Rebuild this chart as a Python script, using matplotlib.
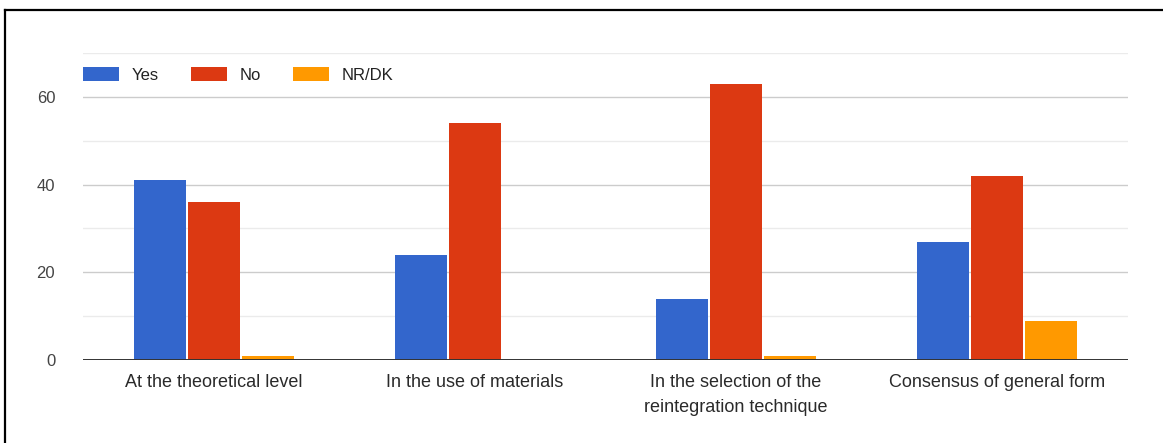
import matplotlib
matplotlib.use("Agg")
import matplotlib.pyplot as plt
import numpy as np
from matplotlib.lines import Line2D

categories = ["At the theoretical level", "In the use of materials",
              "In the selection of the\nreintegration technique", "Consensus of general form"]
series_names = ["Yes", "No", "NR/DK"]
yes_values = [41, 24, 14, 27]
no_values = [36, 54, 63, 42]
nrdk_values = [1, 0, 1, 9]
colors = ["#3366CC", "#DC3912", "#FF9900"]
y_ticks = [0, 20, 40, 60]

plt.rcParams["font.family"] = ["Liberation Sans", "DejaVu Sans"]

W, H = 1163, 443
fig = plt.figure(figsize=(W / 100, H / 100), dpi=100)
ax = fig.add_axes([83 / W, 83 / H, (1128 - 83) / W, (360 - 53) / H])

x = np.arange(len(categories))
bw = 0.199
step = bw + 0.008
for k, (name, vals) in enumerate(zip(series_names, [yes_values, no_values, nrdk_values])):
    ax.bar(x + (k - 1) * step, vals, width=bw, color=colors[k], label=name, zorder=3)

ax.set_xlim(-0.5, len(categories) - 0.5)
ax.set_ylim(0, 70)

# gridlines: darker at labelled ticks, lighter in between
for v in range(10, 71, 10):
    ax.axhline(v, color="#cccccc" if v in y_ticks else "#ebebeb", lw=1.0, zorder=1)
ax.axhline(0, color="#333333", lw=1.4, zorder=4)

ax.set_yticks(y_ticks)
ax.set_yticklabels([str(t) for t in y_ticks], fontsize=12, color="#444444")
ax.set_xticks(x)
ax.set_xticklabels(categories, fontsize=13, color="#2a2a2a", linespacing=1.65)
ax.tick_params(axis="both", length=0)
ax.tick_params(axis="y", pad=20)
ax.tick_params(axis="x", pad=10)
for s in ax.spines.values():
    s.set_visible(False)

leg = ax.legend(loc="center left", bbox_to_anchor=(0.0, (75 - 360) / (53 - 360)),
                ncol=3, frameon=False, fontsize=12, handlelength=2.15, handleheight=0.9,
                handletextpad=0.75, columnspacing=1.95, borderpad=0, borderaxespad=0)
for t in leg.get_texts():
    t.set_color("#222222")

# outer frame edges
fig.add_artist(Line2D([5 / W, 5 / W], [0, 1 - 10 / H], color="black", lw=1.6, transform=fig.transFigure))
fig.add_artist(Line2D([5 / W, 1], [1 - 10 / H, 1 - 10 / H], color="black", lw=1.6, transform=fig.transFigure))

fig.savefig("out.png", dpi=100)
